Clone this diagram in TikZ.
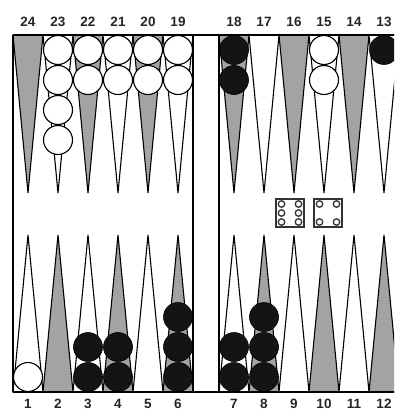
\documentclass[tikz,border=0pt]{standalone}
\usepackage{fontspec}
\setmainfont{Liberation Sans}
\begin{document}
\begin{tikzpicture}[x=1pt,y=-1pt,
  pointline/.style={draw=black, line width=1.1pt, line join=miter},
  dark/.style={pointline, fill=black!36},
  light/.style={pointline, fill=white},
  wch/.style={circle, draw=black, line width=1.1pt, fill=white, minimum size=29pt, inner sep=0pt},
  bch/.style={circle, draw=black, line width=0.6pt, fill=black!92, minimum size=29pt, inner sep=0pt},
  lbl/.style={font=\bfseries\fontsize{13.5}{13.5}\selectfont, text=black!85, inner sep=0pt},
  die/.style={draw=black!80, line width=1.4pt, fill=white, minimum size=28pt, inner sep=0pt},
  pip/.style={circle, draw=black!80, line width=1.3pt, fill=white, minimum size=6.5pt, inner sep=0pt},
  frame/.style={draw=black, line width=1.2pt},
  rail/.style={draw=black, line width=2pt}]
\useasboundingbox (0,0) rectangle (394,412);
\fill[white] (0,0) rectangle (394,412);
\begin{scope}
\clip (0,0) rectangle (394,412);
% top points
\foreach \x/\n/\s in {13/24/dark,43/23/light,73/22/dark,103/21/light,133/20/dark,163/19/light,
                      219/18/dark,249/17/light,279/16/dark,309/15/light,339/14/dark,369/13/light}{
  \path[\s] (\x,35) -- (\x+15,193) -- (\x+30,35) -- cycle;
  \node[lbl] (t\n) at (\x+15,22) {\n};
}
% bottom points
\foreach \x/\n/\s in {13/1/light,43/2/dark,73/3/light,103/4/dark,133/5/light,163/6/dark,
                      219/7/light,249/8/dark,279/9/light,309/10/dark,339/11/light,369/12/dark}{
  \path[\s] (\x,392) -- (\x+15,235) -- (\x+30,392) -- cycle;
  \node[lbl] (b\n) at (\x+15,404) {\n};
}
% frame
\draw[frame] (13,35) -- (13,392);
\draw[frame] (193,35) -- (193,392);
\draw[frame] (219,35) -- (219,392);
\draw[rail] (13,35) -- (400,35);
\draw[rail] (13,392) -- (400,392);
% white checkers top
\foreach \x/\k in {58/4,88/2,118/2,148/2,178/2,324/2}{
  \foreach \j in {1,...,\k}{
    \node[wch] (w\x-\j) at (\x,20+30*\j) {};
  }
}
% black checkers top
\foreach \x/\k in {234/2,384/1}{
  \foreach \j in {1,...,\k}{
    \node[bch] (k\x-\j) at (\x,20+30*\j) {};
  }
}
% white checker bottom
\node[wch] (w1) at (28,377) {};
% black checkers bottom
\foreach \x/\k in {88/2,118/2,178/3,234/2,264/3}{
  \foreach \j in {1,...,\k}{
    \node[bch] (kb\x-\j) at (\x,407-30*\j) {};
  }
}
% dice
\node[die] (d6) at (290,213) {};
\foreach \dx in {-8.5,8.5}{
  \foreach \dy in {-9,0,9}{
    \node[pip] at ([shift={(\dx,\dy)}]d6.center) {};
  }
}
\node[die] (d4) at (328,213) {};
\foreach \dx in {-8.5,8.5}{
  \foreach \dy in {-9,9}{
    \node[pip] at ([shift={(\dx,\dy)}]d4.center) {};
  }
}
\end{scope}
\end{tikzpicture}
\end{document}
